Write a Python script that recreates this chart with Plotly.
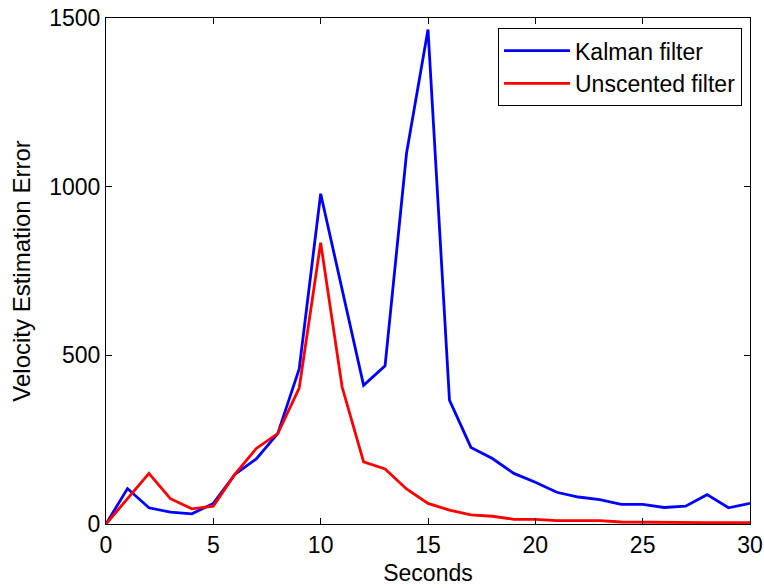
import plotly.graph_objects as go

seconds = list(range(0, 31))
kalman = [0, 105, 48, 35, 30, 61, 147, 193, 268, 460, 979, 695, 411, 469, 1099, 1466,
          367, 227, 194, 150, 124, 94, 80, 72, 58, 58, 49, 53, 87, 48, 61]
unscented = [0, 75, 150, 75, 45, 53, 147, 224, 268, 403, 834, 406, 184, 163, 104, 61,
             41, 27, 23, 14, 14, 10, 10, 10, 6, 5, 5, 4, 4, 4, 4]

FONT = "Liberation Sans, Arial, sans-serif"

fig = go.Figure()
fig.add_trace(go.Scatter(x=seconds, y=kalman, mode="lines", name="Kalman filter",
                         line=dict(color="#0000ff", width=2.8)))
fig.add_trace(go.Scatter(x=seconds, y=unscented, mode="lines", name="Unscented filter",
                         line=dict(color="#ff0000", width=2.8)))

axis_common = dict(showgrid=False, zeroline=False, showline=True, linecolor="black",
                   linewidth=1, mirror="ticks", ticks="inside", ticklen=6,
                   tickcolor="black", automargin=False,
                   tickfont=dict(family=FONT, size=23, color="black"))

fig.update_layout(
    width=764, height=588,
    margin=dict(l=106, r=14, t=18, b=64),
    paper_bgcolor="white", plot_bgcolor="white",
    font=dict(family=FONT, size=23, color="black"),
    xaxis=dict(range=[0, 30], tickvals=[0, 5, 10, 15, 20, 25, 30],
               title=dict(text="Seconds", font=dict(family=FONT, size=23), standoff=8),
               **axis_common),
    yaxis=dict(range=[0, 1500], tickvals=[0, 500, 1000, 1500],
               title=dict(text="Velocity Estimation Error", font=dict(family=FONT, size=24), standoff=11),
               **axis_common),
    legend=dict(x=0.9876, y=0.980, xanchor="right", yanchor="top",
                bgcolor="white", bordercolor="black", borderwidth=1,
                itemwidth=66,
                font=dict(family=FONT, size=23), tracegroupgap=0),
    showlegend=True,
)

fig.write_html("out.html")
